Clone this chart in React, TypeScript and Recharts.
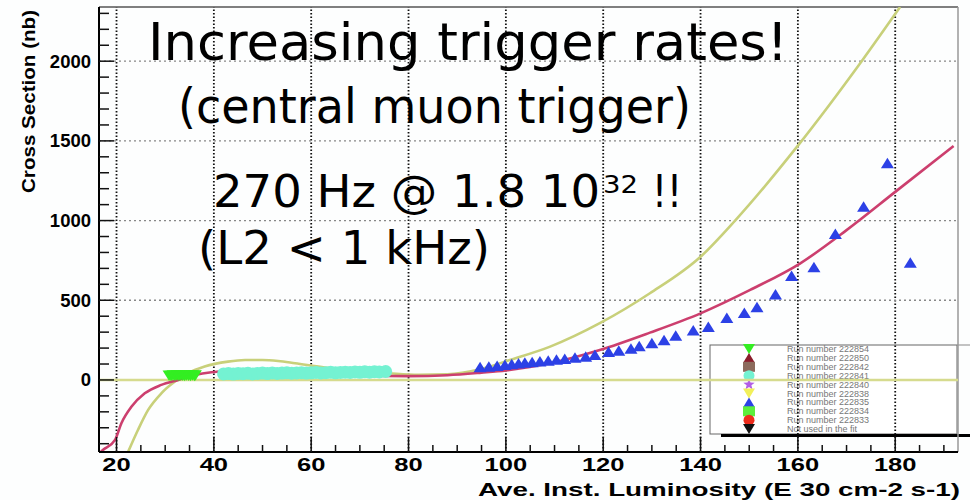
import React from 'react';
import { ComposedChart, Line, Scatter, XAxis, YAxis, ReferenceLine } from 'recharts';

// axis ticks (minor + major), grid positions
const xTicks = [20, 25, 30, 35, 40, 45, 50, 55, 60, 65, 70, 75, 80, 85, 90, 95, 100, 105, 110, 115, 120, 125, 130, 135, 140, 145, 150, 155, 160, 165, 170, 175, 180, 185, 190];
const yTicks = [-400, -300, -200, -100, 0, 100, 200, 300, 400, 500, 600, 700, 800, 900, 1000, 1100, 1200, 1300, 1400, 1500, 1600, 1700, 1800, 1900, 2000, 2100, 2200, 2300];
const xGrid = [20, 40, 60, 80, 100, 120, 140, 160, 180];
const yGrid = [500, 1000, 1500, 2000];

// run 222826 (blue triangles)
const bluePts: [number, number][] = [
  [94.7, 80], [96.5, 83], [98.2, 88], [99.8, 94], [101.2, 99], [102.6, 104], [103.9, 108],
  [105.4, 111], [107.0, 116], [108.7, 121], [110.4, 127], [112.1, 131], [114.2, 140],
  [116.4, 146], [118.3, 156], [121.1, 176], [123.2, 183], [125.7, 196], [127.4, 212],
  [130.0, 230], [132.5, 249], [134.9, 277], [138.5, 310], [141.6, 332], [145.4, 388],
  [149.0, 420], [151.6, 456], [155.4, 536], [158.7, 652], [163.3, 707], [167.7, 916],
  [173.5, 1087], [178.4, 1359], [183.1, 736],
];

// run 222854 (green down triangles)
const greenPts: [number, number][] = [
  [30.8, 28], [31.2, 26], [31.6, 30], [32.0, 27], [32.4, 29], [32.8, 26], [33.2, 30],
  [33.6, 28], [34.0, 27], [34.4, 30], [34.8, 28], [35.2, 26], [35.6, 29], [36.0, 27], [36.2, 30],
];

// run 222841 (aquamarine circles)
const cyanPts: [number, number][] = [
  [42, 38], [43, 40], [44, 37], [45, 41], [46, 39], [47, 42], [48, 38], [49, 41], [50, 43],
  [51, 40], [52, 44], [53, 41], [54, 43], [55, 45], [56, 42], [57, 44], [58, 46], [59, 43],
  [60, 45], [61, 47], [62, 44], [63, 46], [64, 48], [65, 45], [66, 47], [67, 49], [68, 47],
  [69, 50], [70, 48], [71, 51], [72, 49], [73, 52], [74, 50], [75.3, 53],
];

// fit curves
const pinkFit: [number, number][] = [
  [16.8, -450], [17.2, -439], [19.7, -376], [21.0, -272], [23.1, -167], [25.8, -84],
  [29.2, -31], [32.7, 0], [36.1, 31], [39.5, 48], [44, 56], [50, 52], [60, 40], [70, 28],
  [80, 24], [88, 30], [95, 46], [100, 60], [109.1, 105], [119.3, 188], [129.6, 297],
  [140, 418], [150.2, 565], [160.5, 732], [170, 940], [180, 1180], [192, 1468],
];
const olivFit: [number, number][] = [
  [22.4, -450], [24.4, -314], [26.5, -188], [29.2, -84], [32.0, -10], [34.7, 42],
  [38.1, 84], [42.9, 115], [46.4, 125], [50, 125], [53.2, 119], [56.7, 105], [62.5, 80],
  [69.3, 58], [76, 42], [82, 32], [88, 35], [94.7, 67], [100.8, 125], [109.1, 209],
  [119.3, 356], [129.6, 544], [140, 773], [147.1, 1000], [160, 1470], [173.1, 2000], [181, 2340],
];

const legendLabels = [
  'Run number 222854', 'Run number 222850', 'Run number 222842', 'Run number 222841',
  'Run number 222840', 'Run number 222838', 'Run number 222835', 'Run number 222834',
  'Run number 222833', 'Not used in the fit',
];
const legendMarks = [
  { shape: 'down', color: '#33ee22' },
  { shape: 'up', color: '#8b1d2c' },
  { shape: 'square', color: '#8c6a5c' },
  { shape: 'circle', color: '#74f2d2' },
  { shape: 'star', color: '#b35ee6' },
  { shape: 'down', color: '#f2f05a' },
  { shape: 'up', color: '#2c41e6' },
  { shape: 'square', color: '#5cee3c' },
  { shape: 'circle', color: '#ee2c1c' },
  { shape: 'down', color: '#111111' },
];

const toPts = (a: [number, number][]) => a.map(([x, y]) => ({ x, y }));

const AXIS_FONT = '"Liberation Sans", Arial, sans-serif';
const TITLE_FONT = '"DejaVu Sans", sans-serif';

const triUp = (color: string) => (p: any) => (
  <polygon points={`${p.cx - 6.5},${p.cy + 5} ${p.cx + 6.5},${p.cy + 5} ${p.cx},${p.cy - 5.5}`} fill={color} />
);
const triDown = (color: string) => (p: any) => (
  <polygon points={`${p.cx - 6.5},${p.cy - 5} ${p.cx + 6.5},${p.cy - 5} ${p.cx},${p.cy + 5.5}`} fill={color} />
);
const dot = (color: string) => (p: any) => <circle cx={p.cx} cy={p.cy} r={6.5} fill={color} />;

function YTick(props: any) {
  const { x, y, payload } = props;
  const v = payload.value;
  const major = v % 500 === 0;
  return (
    <g>
      <line x1={x} y1={y} x2={x + (major ? 15 : 10)} y2={y} stroke="#111" strokeWidth={1.5} />
      {major && (
        <text x={x - 8} y={y + 6.5} textAnchor="end" fontFamily={AXIS_FONT} fontWeight="bold" fontSize={18.5} fill="#000">
          {v}
        </text>
      )}
    </g>
  );
}

function XTick(props: any) {
  const { x, y, payload } = props;
  const v = payload.value;
  const major = v % 20 === 0;
  const s = String(v);
  return (
    <g>
      <line x1={x} y1={y} x2={x} y2={y - (major ? 15 : 7)} stroke="#111" strokeWidth={1.5} />
      {major && (
        <text
          x={x}
          y={y + 19}
          textAnchor="middle"
          fontFamily={AXIS_FONT}
          fontWeight="bold"
          fontSize={19}
          textLength={s.length * 14.2}
          lengthAdjust="spacingAndGlyphs"
          fill="#000"
        >
          {s}
        </text>
      )}
    </g>
  );
}

function Marker({ shape, color, x, y }: { shape: string; color: string; x: number; y: number }) {
  if (shape === 'up') return <polygon points={`${x - 6},${y + 5} ${x + 6},${y + 5} ${x},${y - 5}`} fill={color} />;
  if (shape === 'down') return <polygon points={`${x - 6},${y - 5} ${x + 6},${y - 5} ${x},${y + 5}`} fill={color} />;
  if (shape === 'square') return <rect x={x - 6} y={y - 5} width={12} height={10} fill={color} />;
  if (shape === 'circle') return <circle cx={x} cy={y} r={5.5} fill={color} />;
  const pts: string[] = [];
  for (let i = 0; i < 10; i++) {
    const r = i % 2 === 0 ? 6 : 2.5;
    const a = -Math.PI / 2 + (i * Math.PI) / 5;
    pts.push(`${x + r * Math.cos(a)},${y + r * Math.sin(a)}`);
  }
  return <polygon points={pts.join(' ')} fill={color} />;
}

function RunLegend() {
  return (
    <svg width={970} height={500} style={{ position: 'absolute', left: 0, top: 0 }}>
      <rect x={710} y={345} width={247} height={89} fill="#ffffff" stroke="#666" strokeWidth={1} />
      <line x1={957} y1={345} x2={970} y2={345} stroke="#888" strokeWidth={1} />
      <line x1={721} y1={435.5} x2={970} y2={435.5} stroke="#000" strokeWidth={3} />
      {legendLabels.map((label, i) => {
        const y = 349 + i * 8.9;
        return (
          <g key={label}>
            <Marker shape={legendMarks[i].shape} color={legendMarks[i].color} x={749} y={y} />
            <text x={787} y={y + 3} fontFamily={AXIS_FONT} fontSize={9} fill="#777">
              {label}
            </text>
          </g>
        );
      })}
    </svg>
  );
}

function Annotations() {
  return (
    <svg width={970} height={500} style={{ position: 'absolute', left: 0, top: 0, pointerEvents: 'none' }}>
      <text x={148} y={60} fontFamily={TITLE_FONT} fontSize={52} textLength={640} lengthAdjust="spacingAndGlyphs" fill="#000">
        Increasing trigger rates!
      </text>
      <text x={178} y={123} fontFamily={TITLE_FONT} fontSize={48} textLength={513} lengthAdjust="spacingAndGlyphs" fill="#000">
        (central muon trigger)
      </text>
      <text x={213} y={207} fontFamily={TITLE_FONT} fontSize={44} textLength={387} lengthAdjust="spacingAndGlyphs" fill="#000">
        270 Hz @ 1.8 10
      </text>
      <text x={603} y={193} fontFamily={TITLE_FONT} fontSize={25} textLength={35} lengthAdjust="spacingAndGlyphs" fill="#000">
        32
      </text>
      <text x={652} y={207} fontFamily={TITLE_FONT} fontSize={44} textLength={30} lengthAdjust="spacingAndGlyphs" fill="#000">
        !!
      </text>
      <text x={198} y={264} fontFamily={TITLE_FONT} fontSize={47} textLength={292} lengthAdjust="spacingAndGlyphs" fill="#000">
        (L2 &lt; 1 kHz)
      </text>
      <text
        transform="translate(35,193) rotate(-90)"
        fontFamily={AXIS_FONT}
        fontWeight="bold"
        fontSize={18.5}
        textLength={183}
        lengthAdjust="spacingAndGlyphs"
        fill="#000"
      >
        Cross Section (nb)
      </text>
      <text x={478} y={496} fontFamily={AXIS_FONT} fontWeight="bold" fontSize={18} textLength={482} lengthAdjust="spacingAndGlyphs" fill="#000">
        Ave. Inst. Luminosity (E 30 cm-2 s-1)
      </text>
    </svg>
  );
}

export default function App() {
  return (
    <div style={{ position: 'absolute', left: 0, top: 0, width: 970, height: 500, background: '#fdfefe', overflow: 'hidden' }}>
      <RunLegend />
      <div style={{ position: 'absolute', left: 0, top: 0 }}>
        <ComposedChart width={970} height={500} margin={{ top: 7, right: 12, bottom: 18, left: 39 }}>
          <XAxis
            type="number"
            dataKey="x"
            domain={[16.4, 192.9]}
            ticks={xTicks}
            interval={0}
            allowDataOverflow
            tickSize={0}
            tickMargin={0}
            tick={<XTick />}
            height={30}
            axisLine={{ stroke: '#000', strokeWidth: 2 }}
          />
          <YAxis
            type="number"
            dataKey="y"
            domain={[-452, 2340]}
            ticks={yTicks}
            interval={0}
            allowDataOverflow
            tickSize={0}
            tickMargin={0}
            tick={<YTick />}
            width={60}
            axisLine={{ stroke: '#000', strokeWidth: 2 }}
          />
          {xGrid.map((v) => (
            <ReferenceLine key={`gx${v}`} x={v} stroke="#111" strokeWidth={1.8} strokeDasharray="1.5 2" />
          ))}
          {yGrid.map((v) => (
            <ReferenceLine key={`gy${v}`} y={v} stroke="#888" strokeWidth={1.3} strokeDasharray="2 3" />
          ))}
          <ReferenceLine y={2340} stroke="#555" strokeWidth={1.5} />
          <ReferenceLine x={192.9} stroke="#999" strokeWidth={1.5} />
          <ReferenceLine y={0} stroke="#d6db8e" strokeWidth={2.5} />
          <Line data={toPts(olivFit)} dataKey="y" type="monotone" stroke="#c8d07a" strokeWidth={2.6} dot={false} isAnimationActive={false} />
          <Line data={toPts(pinkFit)} dataKey="y" type="monotone" stroke="#cc3f6e" strokeWidth={2.6} dot={false} isAnimationActive={false} />
          <Scatter data={toPts(greenPts)} dataKey="y" shape={triDown('#33ee22')} isAnimationActive={false} />
          <Scatter data={toPts(cyanPts)} dataKey="y" shape={dot('#74f2d2')} isAnimationActive={false} />
          <Scatter data={toPts(bluePts)} dataKey="y" shape={triUp('#2c41e6')} isAnimationActive={false} />
        </ComposedChart>
      </div>
      <Annotations />
    </div>
  );
}
